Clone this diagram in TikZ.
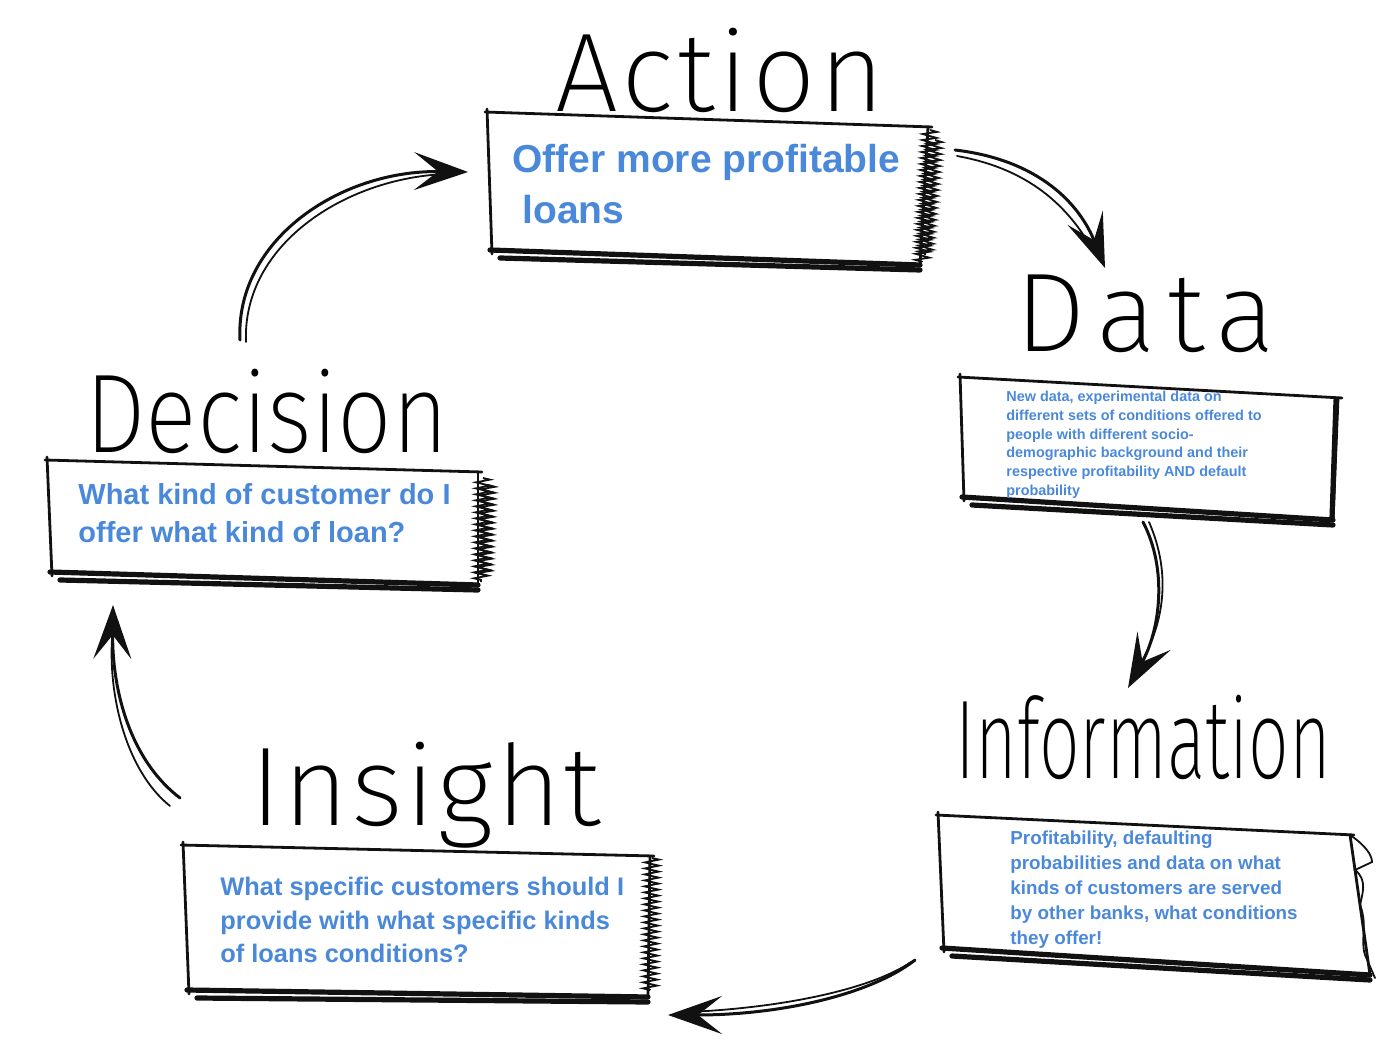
\documentclass[tikz,border=0pt]{standalone}
\usepackage{fontspec}
\setmainfont{Liberation Sans}
\newfontfamily\handfont{Fira Sans ExtraLight}
\usetikzlibrary{arrows.meta,decorations.pathmorphing,calc}

\definecolor{inkblue}{HTML}{4A88DA}
\definecolor{ink}{HTML}{111111}

\tikzset{
  edge/.style={draw=ink, line width=1.4pt, line cap=round, line join=round},
  heavy/.style={draw=ink, line width=2.6pt, line cap=round},
  hatch/.style={draw=ink, line width=0.9pt, decorate,
    decoration={zigzag, segment length=3pt, amplitude=3.5pt}},
  sketcharrow/.style={draw=ink, line width=1.5pt, line cap=round,
    -{Stealth[length=27pt,width=19pt,inset=12pt]}},
  sketchline/.style={draw=ink, line width=0.9pt, line cap=round},
  title/.style={font=\handfont\fontsize{56}{56}\selectfont, anchor=base west,
    inner sep=0pt},
  bluetext/.style={text=inkblue, font=\bfseries, align=left,
    anchor=north west, inner sep=0pt}
}

% hand-drawn box: name, top-left, top-right, bottom-right, bottom-left
\newcommand\sketchbox[5]{%
  \coordinate (#1-nw) at #2;
  \coordinate (#1-ne) at #3;
  \coordinate (#1-se) at #4;
  \coordinate (#1-sw) at #5;
  \draw[edge] ($(#1-nw)+(-2,0)$) -- ($(#1-ne)+(4,0)$);
  \draw[edge] ($(#1-nw)+(0,-3)$) -- ($(#1-sw)+(2,4)$);
  \draw[heavy] (#1-sw) -- (#1-se);
  \draw[heavy] ($(#1-sw)+(10,8)$) -- ($(#1-se)+(0,5)$);
  \draw[edge] (#1-ne) -- (#1-se);
}

\begin{document}
\begin{tikzpicture}[x=0.5pt, y=-0.5pt]
\useasboundingbox (0,0) rectangle (1400,1052);

% ---------- boxes ----------
\sketchbox{act}{(487,112)}{(928,127)}{(920,265)}{(490,250)}
\draw[hatch] (930,130) -- (922,262);
\draw[hatch] (935,140) -- (925,255);

\sketchbox{dat}{(960,377)}{(1338,398)}{(1333,520)}{(962,497)}
\draw[heavy] (1336,400) -- (1332,518);

\sketchbox{inf}{(938,815)}{(1350,835)}{(1370,975)}{(942,948)}
\draw[sketchline] (1350,835) .. controls (1365,845) and (1372,855) .. (1372,862)
  -- (1355,870) .. controls (1368,880) and (1362,895) .. (1360,905)
  .. controls (1368,925) and (1360,940) .. (1365,955) -- (1375,978);

\sketchbox{ins}{(183,845)}{(650,856)}{(648,997)}{(187,990)}
\draw[hatch] (652,858) -- (650,990);

\sketchbox{dec}{(47,460)}{(478,472)}{(478,585)}{(50,572)}
\draw[hatch] (483,478) -- (481,582);
\draw[hatch] (488,485) -- (484,575);

% ---------- titles ----------
\node[title] (tact) at (555,112) {A\kern1.8pt c\kern1.8pt t\kern1.8pt i\kern1.8pt o\kern1.8pt n};
\node[title] (tdat) at (1015,352) {D\kern5.5pt a\kern5.5pt t\kern5.5pt a};
\node[title] (tinf) at (955,778) {\scalebox{0.64}[1]{Information}};
\node[title] (tins) at (250,825) {I\kern1.2pt n\kern1.2pt s\kern1.2pt i\kern1.2pt g\kern1.2pt h\kern1.2pt t};
\node[title] (tdec) at (85,453) {\scalebox{0.86}[1]{Decision}};

% ---------- box texts ----------
\node[bluetext, font=\bfseries\fontsize{19.5}{25.5}\selectfont] (xact) at (512,144)
  {Offer more profitable\\\hspace*{5pt}loans};
\node[bluetext, font=\bfseries\fontsize{7.2}{9.35}\selectfont] (xdat) at (1006,391)
  {New data, experimental data on\\different sets of conditions offered to\\people with different socio-\\demographic background and their\\respective profitability AND default\\probability};
\node[bluetext, font=\bfseries\fontsize{9.4}{12.5}\selectfont] (xinf) at (1010,830)
  {Profitability, defaulting\\probabilities and data on what\\kinds of customers are served\\by other banks, what conditions\\they offer!};
\node[bluetext, font=\bfseries\fontsize{12.7}{16.75}\selectfont] (xins) at (220,877)
  {What specific customers should I\\provide with what specific kinds\\of loans conditions?};
\node[bluetext, font=\bfseries\fontsize{14.5}{19}\selectfont] (xdec) at (78,483)
  {What kind of customer do I\\offer what kind of loan?};

% ---------- cycle arrows ----------
\coordinate (a1s) at (955,150);  \coordinate (a1e) at (1105,268);
\coordinate (a2s) at (1143,522); \coordinate (a2e) at (1128,688);
\coordinate (a3s) at (915,960);  \coordinate (a3e) at (668,1015);
\coordinate (a4s) at (180,798);  \coordinate (a4e) at (113,605);
\coordinate (a5s) at (240,340);  \coordinate (a5e) at (468,172);

\draw[sketcharrow] (a1s) .. controls (1040,160) and (1080,205) .. (a1e);
\draw[sketchline] ($(a1s)+(2,6)$) .. controls (1035,170) and (1072,212) .. ($(a1e)+(-10,-14)$);

\draw[sketcharrow] (a2s) .. controls (1168,570) and (1160,630) .. (a2e);
\draw[sketchline] ($(a2s)+(6,0)$) .. controls (1172,575) and (1164,625) .. ($(a2e)+(10,-20)$);

\draw[sketcharrow] (a3s) .. controls (870,995) and (780,1015) .. (a3e);
\draw[sketchline] ($(a3s)+(-4,2)$) .. controls (870,990) and (780,1008) .. ($(a3e)+(20,-3)$);

\draw[sketcharrow] (a4s) .. controls (130,760) and (112,690) .. (a4e);
\draw[sketchline] ($(a4s)+(-10,8)$) .. controls (125,770) and (106,690) .. ($(a4e)+(0,22)$);

\draw[sketcharrow] (a5s) .. controls (235,240) and (340,170) .. (a5e);
\draw[sketchline] ($(a5s)+(6,2)$) .. controls (242,245) and (345,178) .. ($(a5e)+(-22,2)$);
\end{tikzpicture}
\end{document}
